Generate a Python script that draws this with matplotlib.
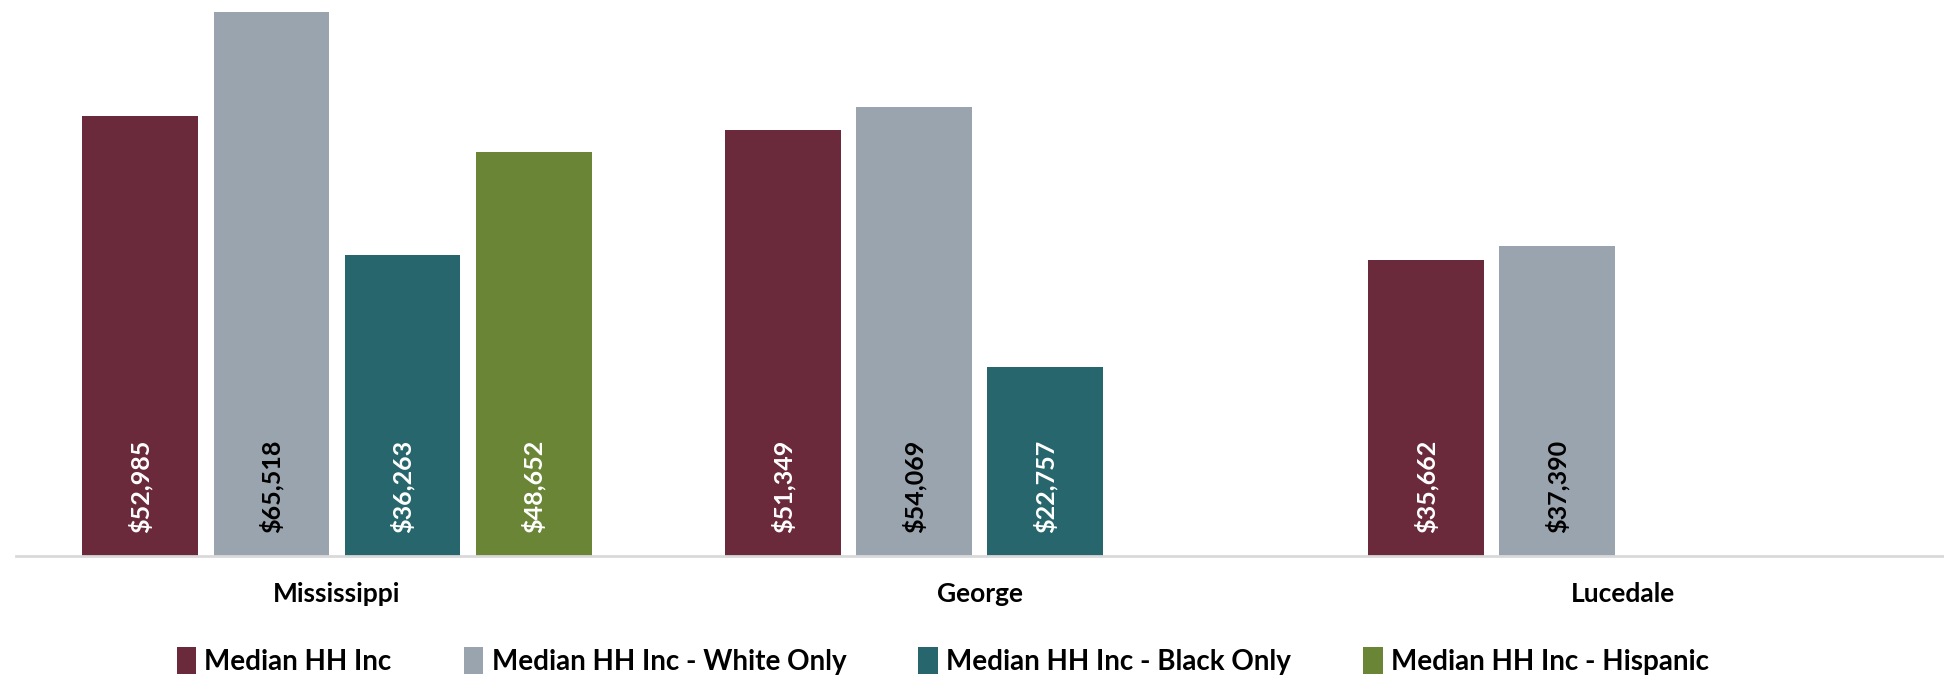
import numpy as np
import matplotlib.pyplot as plt

plt.rcParams['font.family'] = ['Lato', 'DejaVu Sans']

places = ['Mississippi', 'George', 'Lucedale']
series = ['Median HH Inc', 'Median HH Inc - White Only',
          'Median HH Inc - Black Only', 'Median HH Inc - Hispanic']
median_all = [52985, 51349, 35662]
median_white = [65518, 54069, 37390]
median_black = [36263, 22757, np.nan]
median_hisp = [48652, np.nan, np.nan]

values = [median_all, median_white, median_black, median_hisp]
colors = ['#6B2A3B', '#9AA4AE', '#27666C', '#6A8536']
text_colors = ['white', 'black', 'white', 'white']

fig = plt.figure(figsize=(19.44, 6.76), dpi=100)
ax = fig.add_axes([0.008, 0.178, 0.992, 0.822])

x = np.arange(len(places))
slot = 0.204
width = 0.18
for i, (vals, c, tc, name) in enumerate(zip(values, colors, text_colors, series)):
    pos = x + (i - 1.5) * slot
    bars = ax.bar(pos, vals, width, color=c, label=name)
    for b, v in zip(bars, vals):
        if np.isnan(v):
            continue
        ax.text(b.get_x() + b.get_width() / 2, 2700, f'${v:,.0f}',
                rotation=90, ha='center', va='bottom', color=tc,
                fontsize=18, fontweight='bold')

ax.set_xlim(-0.5, 2.5)
ax.set_ylim(0, 67000)
ax.set_xticks(x)
ax.set_xticklabels(places, fontsize=19, fontweight='bold')
ax.tick_params(axis='x', length=0, pad=19)
ax.set_yticks([])
for s in ['top', 'left', 'right']:
    ax.spines[s].set_visible(False)
ax.spines['bottom'].set_color('#D9D9D9')
ax.spines['bottom'].set_linewidth(2)

fig.legend(loc='lower center', bbox_to_anchor=(0.485, -0.035), ncol=4,
           frameon=False, prop={'weight': 'bold', 'size': 20},
           handlelength=0.7, handleheight=1.1, handletextpad=0.3,
           columnspacing=2.6)

fig.savefig('out.png', dpi=100)
